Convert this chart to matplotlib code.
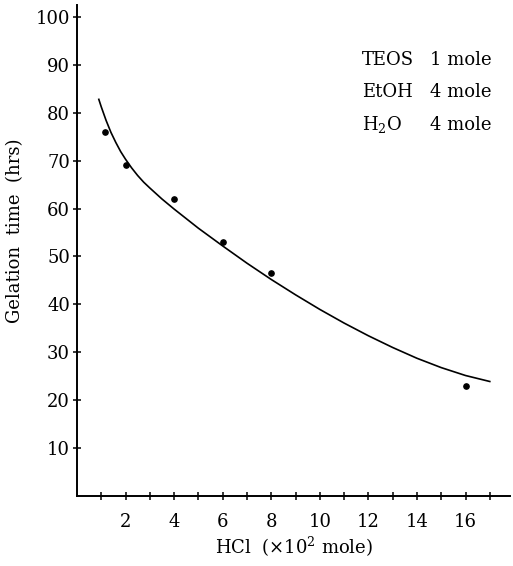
import matplotlib
matplotlib.use("Agg")
import matplotlib.pyplot as plt
from matplotlib.ticker import FixedLocator

plt.rcParams['font.family'] = ['DejaVu Serif']
plt.rcParams['mathtext.fontset'] = 'dejavuserif'

# measured gelation times
hcl = [1.15, 2, 4, 6, 8, 16]
gel_time = [76, 69, 62, 53, 46.5, 23]

# fitted curve, read at these HCl amounts
curve_x = [0.9, 1.0, 1.2, 1.4, 1.6, 1.8, 2.0, 2.25, 2.5, 2.75, 3.0, 3.5, 4, 5, 6,
           7, 8, 9, 10, 11, 12, 13, 14, 15, 16, 17]
curve_y = [82.8, 81.25, 78.4, 75.9, 73.8, 71.9, 70.3, 68.5, 66.9, 65.5, 64.3, 62.0,
           59.9, 55.9, 52.2, 48.6, 45.2, 42.0, 38.95, 36.1, 33.45, 31.0, 28.75,
           26.8, 25.15, 23.9]

xticks_major = [2, 4, 6, 8, 10, 12, 14, 16]
xticks_minor = list(range(1, 18))
yticks = [10, 20, 30, 40, 50, 60, 70, 80, 90, 100]

composition = [("TEOS", "1 mole"), ("EtOH", "4 mole"), (r"H$_\mathregular{2}$O", "4 mole")]

fig = plt.figure(figsize=(5.13, 5.66), dpi=100)
ax = fig.add_axes([0.150, 0.1237, 0.845, 0.8675])

ax.plot(curve_x, curve_y, color='black', lw=1.2)
ax.plot(hcl, gel_time, 'o', color='black', markersize=3.8)

ax.set_xlim(0, 17.85)
ax.set_ylim(0, 102.5)

for side in ['top', 'right']:
    ax.spines[side].set_visible(False)
for side in ['left', 'bottom']:
    ax.spines[side].set_linewidth(1.4)

ax.xaxis.set_major_locator(FixedLocator(xticks_major))
ax.xaxis.set_minor_locator(FixedLocator(xticks_minor))
ax.set_yticks(yticks)
ax.tick_params(axis='both', which='both', direction='inout', length=6, width=1.1,
               labelsize=13)
ax.tick_params(axis='x', which='major', pad=9)
ax.tick_params(axis='y', which='major', pad=2)

ax.set_xlabel(r"HCl  ($\times$10$^\mathregular{2}$ mole)", fontsize=13, labelpad=3)
ax.set_ylabel("Gelation  time  (hrs)", fontsize=13)
ax.yaxis.set_label_coords(-0.122, 0.54)

for i, (name, amount) in enumerate(composition):
    y = 0.888 - i * 0.066
    ax.text(0.658, y, name, transform=ax.transAxes, fontsize=13, va='center')
    ax.text(0.814, y, amount, transform=ax.transAxes, fontsize=13, va='center')

fig.savefig("out.png", dpi=100)
